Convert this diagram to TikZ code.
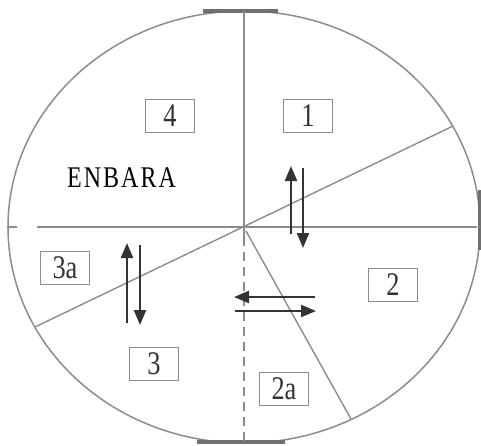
\documentclass[tikz,border=0pt]{standalone}
\usepackage{fontspec}
\setmainfont{Liberation Serif}
\newfontfamily\narrowserif[FakeStretch=0.8]{Liberation Serif}
\usetikzlibrary{arrows.meta}
\definecolor{linegray}{HTML}{8C8C8C}
\definecolor{bargray}{HTML}{707070}
\definecolor{arrowgray}{HTML}{333333}
\definecolor{boxtext}{HTML}{333333}
\tikzset{
  wall/.style={draw=linegray, line width=1.5pt},
  divider/.style={draw=linegray, line width=1.4pt},
  opening/.style={draw=bargray, line width=3.4pt},
  lbl/.style={draw=linegray, line width=1.3pt, minimum width=49pt, minimum height=33pt,
    inner sep=0pt, text=boxtext, font=\narrowserif\fontsize{33}{33}\selectfont},
  flow/.style={draw=arrowgray, line width=2.2pt, -{Triangle[width=12pt,length=15pt]}}
}
\begin{document}
\begin{tikzpicture}[x=1pt,y=-1pt]
\useasboundingbox (0,0) rectangle (481,445);
\coordinate (c) at (244,227);
% outer wall
\draw[wall] (c) ellipse [x radius=236, y radius=216];
% openings
\coordinate (tl) at (203,11); \coordinate (tr) at (278,11);
\coordinate (bl) at (197,442); \coordinate (br) at (285,442);
\coordinate (rt) at (479.5,190); \coordinate (rb) at (479.5,250);
\draw[opening] (tl) -- (tr);
\draw[opening] (bl) -- (br);
\draw[opening] (rt) -- (rb);
% dividers
\coordinate (top) at (244,11);
\coordinate (cdn) at (244,237);
\coordinate (bot) at (244,442);
\coordinate (hl) at (37,227); \coordinate (hr) at (477,227);
\coordinate (hl1) at (7,227); \coordinate (hl2) at (17,227);
\coordinate (d1) at (453,126); \coordinate (d2) at (35,327);
\coordinate (s1) at (246,231); \coordinate (s2) at (351,419);
\draw[divider] (top) -- (cdn);
\draw[divider, dash pattern=on 9pt off 6pt] (cdn) -- (bot);
\draw[divider] (hl) -- (hr);
\draw[divider] (hl1) -- (hl2);
\draw[divider] (d1) -- (d2);
\draw[divider] (s1) -- (s2);
% labels
\node[lbl] (b4) at (170,116) {4};
\node[lbl] (b1) at (308,116) {1};
\node[lbl] (b3a) at (65,268) {3a};
\node[lbl] (b2) at (393,285) {2};
\node[lbl] (b3) at (154,364) {3};
\node[lbl] (b2a) at (284,389) {2a};
\node[font=\narrowserif\fontsize{30}{30}\selectfont, anchor=west, inner sep=0pt] (enbara) at (67,178)
  {E\kern2pt N\kern2pt B\kern2pt A\kern2pt R\kern2pt A};
% flows
\coordinate (a1s) at (291,234); \coordinate (a1e) at (291,166);
\coordinate (a2s) at (303,168); \coordinate (a2e) at (303,248);
\coordinate (a3s) at (127,323); \coordinate (a3e) at (127,243);
\coordinate (a4s) at (140,245); \coordinate (a4e) at (140,325);
\coordinate (a5s) at (315,297); \coordinate (a5e) at (234,297);
\coordinate (a6s) at (235,311); \coordinate (a6e) at (316,311);
\draw[flow] (a1s) -- (a1e);
\draw[flow] (a2s) -- (a2e);
\draw[flow] (a3s) -- (a3e);
\draw[flow] (a4s) -- (a4e);
\draw[flow] (a5s) -- (a5e);
\draw[flow] (a6s) -- (a6e);
\end{tikzpicture}
\end{document}
